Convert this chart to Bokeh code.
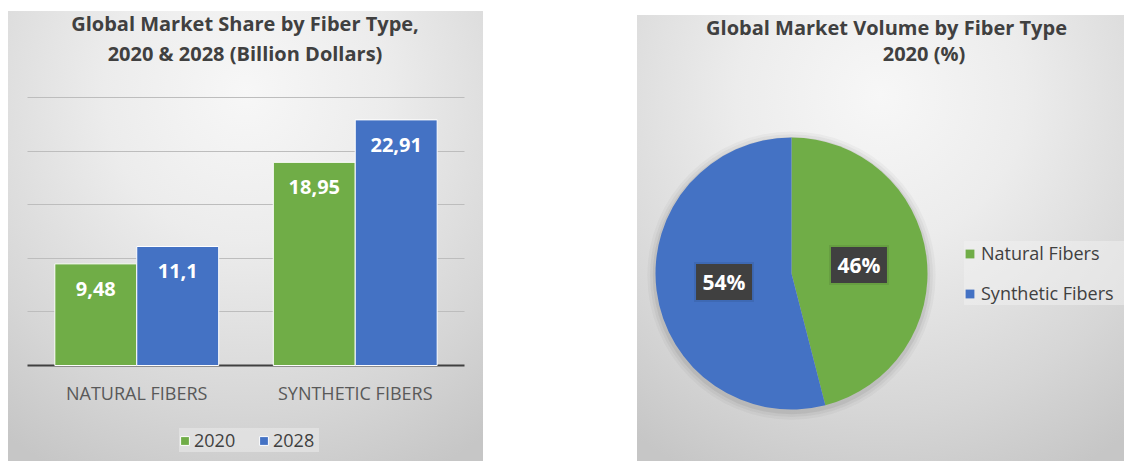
import math
from bokeh.plotting import figure
from bokeh.models import (ColumnDataSource, FactorRange, Range1d, Label, Legend,
                          FixedTicker, Spacer, Grid)
from bokeh.layouts import row, column
from bokeh.transform import dodge
from bokeh.core.properties import value
from bokeh.embed import file_html
from bokeh.resources import INLINE

# ---------------- data ----------------
categories = ["NATURAL FIBERS", "SYNTHETIC FIBERS"]
years = ["2020", "2028"]
values_2020 = [9.48, 18.95]
values_2028 = [11.1, 22.91]
y_ticks = [5, 10, 15, 20, 25]

pie_labels = ["Natural Fibers", "Synthetic Fibers"]
pie_shares = [46, 54]

bar_title = ["Global Market Share by Fiber Type,", "2020 & 2028 (Billion Dollars)"]
pie_title = ["Global Market Volume by Fiber Type", "2020 (%)"]

# ---------------- style ----------------
GREEN = "#70AD47"
BLUE = "#4472C4"
FONT = "Open Sans"
TITLE_COLOR = "#404040"
BG = ("radial-gradient(ellipse 85% 95% at 50% 18%, #f7f7f7 0%, #ececec 35%, "
      "#d6d6d6 75%, #c6c6c6 100%)")


def fmt(v):
    return f"{v:g}".replace(".", ",")


# ---------------- bar chart ----------------
src = ColumnDataSource(dict(
    cat=categories,
    zero=[0] * len(categories),
    y2020=values_2020,
    y2028=values_2028,
    l2020=[fmt(v) for v in values_2020],
    l2028=[fmt(v) for v in values_2028],
))

p = figure(x_range=FactorRange(factors=categories, range_padding=0.087),
           y_range=Range1d(-8.955, 33.02), width=475, height=450,
           output_backend="svg", toolbar_location=None, min_border=0)
p.border_fill_alpha = 0
p.background_fill_alpha = 0
p.outline_line_color = None
p.styles = {"background": BG}
p.axis.visible = False
p.xgrid.visible = False
p.ygrid.ticker = FixedTicker(ticks=y_ticks)
p.ygrid.grid_line_color = "#bdbdbd"
p.ygrid.grid_line_width = 1
p.ygrid.cross_bounds = (0, len(categories))

# baseline (value axis zero line)
p.add_layout(Grid(dimension=1, ticker=FixedTicker(ticks=[0]),
                  grid_line_color="#404040", grid_line_width=2,
                  cross_bounds=(0, len(categories))))

bw = 0.375
r1 = p.vbar(x=dodge("cat", -bw / 2, range=p.x_range), top="y2020", width=bw,
            source=src, fill_color=GREEN, line_color="white", line_width=1)
r2 = p.vbar(x=dodge("cat", bw / 2, range=p.x_range), top="y2028", width=bw,
            source=src, fill_color=BLUE, line_color="white", line_width=1)

for off, col in ((-bw / 2, "2020"), (bw / 2, "2028")):
    p.text(x=dodge("cat", off, range=p.x_range), y="y" + col, text="l" + col,
           source=src, text_align="center", text_baseline="middle",
           y_offset=25, text_color="white", text_font=value(FONT),
           text_font_style="bold", text_font_size="20px")

# category labels under the baseline
p.text(x="cat", y="zero", text="cat", source=src, text_align="center",
       text_baseline="middle", y_offset=28, text_color="#595959",
       text_font=value(FONT), text_font_size="18px")

for i, t in enumerate(bar_title):
    p.add_layout(Label(x=236.5, y=438 - 30 * i, x_units="screen", y_units="screen",
                       text=t, text_align="center", text_baseline="middle",
                       text_font=FONT, text_font_style="bold",
                       text_font_size="20px", text_color=TITLE_COLOR))

leg1 = Legend(items=[(years[0], [r1]), (years[1], [r2])],
              orientation="horizontal", location=(171, 9),
              glyph_width=11, glyph_height=11, label_standoff=4, spacing=18,
              padding=13, margin=0, label_height=20, label_width=46,
              label_text_font=FONT,
              label_text_font_size="18px", label_text_color="#404040",
              background_fill_color="#e9e9e9", background_fill_alpha=0.6,
              border_line_color=None)
p.add_layout(leg1)

# ---------------- pie chart ----------------
total = float(sum(pie_shares))
starts, ends, mids = [], [], []
acc = 0.0
for s in pie_shares:
    a0 = math.pi / 2 - 2 * math.pi * acc / total
    acc += s
    a1 = math.pi / 2 - 2 * math.pi * acc / total
    starts.append(a0)
    ends.append(a1)
    mids.append((a0 + a1) / 2)

psrc = ColumnDataSource(dict(
    label=pie_labels,
    share=pie_shares,
    start=starts,
    end=ends,
    color=[GREEN, BLUE],
    lx=[0.5 * math.cos(m) for m in mids],
    ly=[0.5 * math.sin(m) for m in mids],
    txt=[f"{s}%" for s in pie_shares],
))

q = figure(width=487, height=446, x_range=Range1d(-1.1324, 2.4485),
           y_range=Range1d(-1.382, 1.897), output_backend="svg",
           toolbar_location=None, min_border=0)
q.border_fill_alpha = 0
q.background_fill_alpha = 0
q.outline_line_color = None
q.styles = {"background": BG}
q.axis.visible = False
q.grid.visible = False

# soft shadow
for rr, al in ((1.06, 0.03), (1.04, 0.04), (1.02, 0.06)):
    q.circle(x=0, y=-0.015, radius=rr, fill_color="black", fill_alpha=al,
             line_color=None)

w = q.wedge(x=0, y=0, radius=1, start_angle="start", end_angle="end",
            direction="clock", fill_color="color", line_color=None,
            source=psrc)

q.rect(x="lx", y="ly", width=60, height=40, width_units="screen",
       height_units="screen", fill_color="black", fill_alpha=0.08,
       line_color=None, source=psrc)
q.rect(x="lx", y="ly", width=56, height=36, width_units="screen",
       height_units="screen", fill_color="#404040", line_color=None,
       source=psrc)
q.text(x="lx", y="ly", text="txt", source=psrc, text_align="center",
       text_baseline="middle", text_color="white", text_font=value(FONT),
       text_font_style="bold", text_font_size="21px")

leg2 = Legend(items=[(pie_labels[i], [w]) for i in range(len(pie_labels))],
              location=(327, 156), glyph_width=11, glyph_height=11,
              label_standoff=6, spacing=16, padding=10, margin=0,
              label_height=20, label_width=170,
              label_text_font=FONT, label_text_font_size="18px",
              label_text_color="#404040", background_fill_color="#f2f2f2",
              background_fill_alpha=0.5, border_line_color=None)
for i, it in enumerate(leg2.items):
    it.index = i
q.add_layout(leg2)

q.add_layout(Label(x=249, y=434, x_units="screen", y_units="screen",
                   text=pie_title[0], text_align="center", text_baseline="middle",
                   text_font=FONT, text_font_style="bold", text_font_size="20px",
                   text_color=TITLE_COLOR))
q.add_layout(Label(x=286.5, y=408, x_units="screen", y_units="screen",
                   text=pie_title[1], text_align="center", text_baseline="middle",
                   text_font=FONT, text_font_style="bold", text_font_size="20px",
                   text_color=TITLE_COLOR))

layout = row(Spacer(width=8), column(Spacer(height=11), p), Spacer(width=154),
             column(Spacer(height=15), q))

open("out.html", "w").write(file_html(layout, INLINE))
